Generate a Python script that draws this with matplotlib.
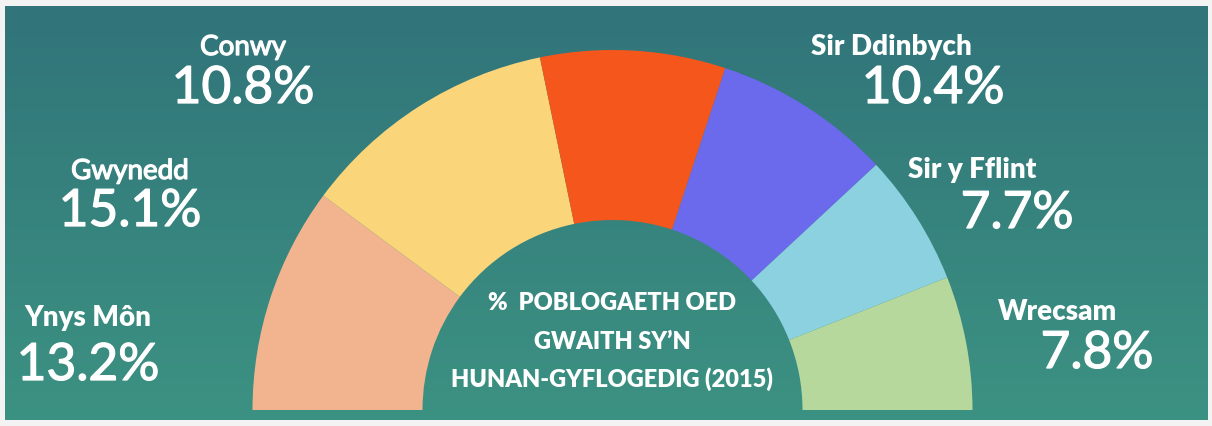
import numpy as np
import matplotlib.pyplot as plt
import matplotlib.patheffects as pe
from matplotlib.colors import to_rgb

plt.rcParams['font.family'] = ['Lato', 'DejaVu Sans']

# data
names = ["Ynys Môn", "Gwynedd", "Conwy", "Sir Ddinbych", "Sir y Fflint", "Wrecsam"]
values = [13.2, 15.1, 10.8, 10.4, 7.7, 7.8]
title_lines = ["%  POBLOGAETH OED", "GWAITH SY\u2019N", "HUNAN-GYFLOGEDIG (2015)"]

colors = ["#f2b48e", "#fbd57a", "#f5561b", "#6b69ec", "#8bd1df", "#b6d89c"]

# layout (pixel coords, y from top)
W, H = 1212, 427
name_pos = [(88, 318), (130, 172), (243, 48), (891, 47), (972, 170), (1058, 312)]
value_pos = [(88, 367), (130, 213), (243, 90), (933, 90), (1017, 215), (1097, 355)]
name_weight = ["heavy", "normal", "normal", "heavy", "heavy", "heavy"]
title_y = [303, 342, 379]

fig = plt.figure(figsize=(12.12, 4.27), dpi=100, facecolor="#f3f3f3")
ax = fig.add_axes([0, 0, 1, 1])

# teal background panel
top = np.array(to_rgb("#31747a"))
bot = np.array(to_rgb("#3c9282"))
t = np.linspace(0, 1, 200)[:, None]
grad = top * (1 - t) + bot * t
ax.imshow(grad[:, None, :], extent=[5, 1208, H - 421, H - 7], aspect='auto', zorder=0)

# half donut: hidden slice fills the bottom half
wedges, _ = ax.pie(values + [sum(values)], colors=colors + ["none"],
                   startangle=180, counterclock=False, radius=360,
                   center=(612.5, H - 411), frame=True,
                   wedgeprops=dict(width=170, linewidth=0))
wedges[-1].set_visible(False)
for w in wedges:
    w.set_zorder(2)

thicker = [pe.withStroke(linewidth=0.9, foreground="white")]

for i in range(len(names)):
    nx, ny = name_pos[i]
    vx, vy = value_pos[i]
    txt = ax.text(nx, H - ny, names[i], color="white", fontsize=20, fontweight=name_weight[i],
                  ha="center", va="center", zorder=3)
    if name_weight[i] == "normal":
        txt.set_path_effects(thicker)
    ax.text(vx, H - vy, "%.1f%%" % values[i], color="white", fontsize=37,
            ha="center", va="center", zorder=3, path_effects=thicker)

for line, y in zip(title_lines, title_y):
    ax.text(612, H - y, line, color="white", fontsize=17, fontweight="heavy",
            ha="center", va="center", zorder=3)

ax.set_xlim(0, W)
ax.set_ylim(0, H)
ax.set_aspect("auto")
ax.axis("off")

fig.savefig("out.png", dpi=100, facecolor=fig.get_facecolor())
